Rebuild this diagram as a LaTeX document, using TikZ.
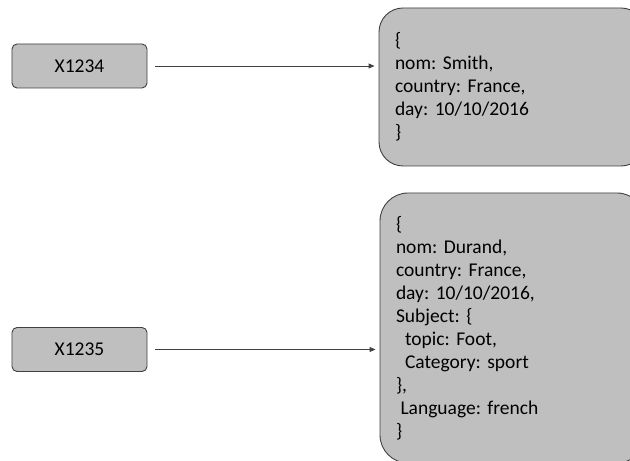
\documentclass[tikz,border=0pt]{standalone}
\usepackage{fontspec}
\setmainfont{Carlito}
\usetikzlibrary{arrows.meta}
\definecolor{boxfill}{HTML}{BFBFBF}
\definecolor{boxline}{HTML}{404040}
\definecolor{arrowline}{HTML}{404040}
\frenchspacing
\tikzset{
  keybox/.style={draw=boxline, fill=boxfill, line width=0.9bp, rounded corners=5bp,
    minimum width=135bp, minimum height=44bp, inner sep=0pt,
    font=\fontsize{19.5bp}{23bp}\selectfont},
  docbox/.style={draw=boxline, fill=boxfill, line width=0.9bp,
    inner xsep=16bp, inner ysep=0pt, align=left,
    font=\fontsize{19.5bp}{23bp}\selectfont\frenchspacing},
  link/.style={draw=arrowline, line width=0.9bp, -{Triangle[length=6bp,width=5bp]},
    shorten <=8bp, shorten >=4bp}
}
\begin{document}
\begin{tikzpicture}[x=1bp,y=-1bp]
\clip (0,0) rectangle (630,461);
\fill[white] (0,0) rectangle (630,461);
\node[keybox] (k1) at (79.5,66) {X1234};
\node[keybox] (k2) at (79.5,349.5) {X1235};
\node[docbox, rounded corners=24bp, minimum height=158bp, text width=234bp] (d1) at (512,87)
  {\{\\nom: Smith,\\country: France,\\day: 10/10/2016\\\}};
\node[docbox, rounded corners=28bp, minimum height=270bp, text width=233bp] (d2) at (512.5,328)
  {\{\\nom: Durand,\\country: France,\\day: 10/10/2016,\\Subject: \{\\\hspace*{9bp}topic: Foot,\\\hspace*{9bp}Category: sport\\\},\\\hspace*{4.5bp}Language: french\\\}};
\draw[link] (k1.east) -- (k1.east -| d1.west);
\draw[link] (k2.east) -- (k2.east -| d2.west);
\end{tikzpicture}
\end{document}
